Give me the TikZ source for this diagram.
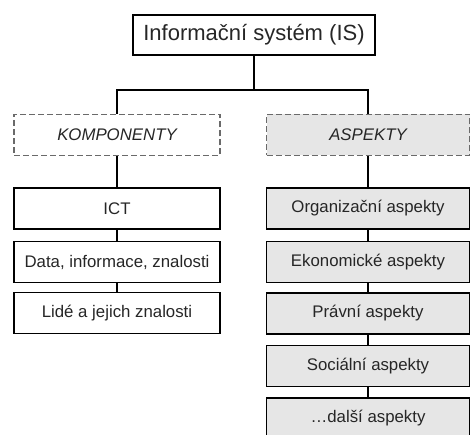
\documentclass[tikz,border=0pt]{standalone}
\usepackage{fontspec}
\setmainfont{Liberation Sans}
\usetikzlibrary{positioning}
\definecolor{aspgray}{HTML}{E6E6E6}
\definecolor{dashgray}{HTML}{6A6A6A}
\definecolor{textgray}{HTML}{262626}
\tikzset{
  box/.style={draw, line width=1.4pt, minimum width=206pt, minimum height=41pt, inner sep=0pt, text=textgray, font=\fontsize{16.8}{19}\selectfont},
  aspbox/.style={box, fill=aspgray},
  groupbox/.style={box, draw=dashgray, dash pattern=on 6pt off 3pt, font=\fontsize{16.8}{19}\selectfont\itshape},
  link/.style={draw, line width=1.4pt}
}

\begin{document}
\begin{tikzpicture}[x=1pt, y=-1pt]
	\useasboundingbox (0,0) rectangle (470,435);
	\clip (0,0) rectangle (470,435);
	\node[box, minimum width=242pt, minimum height=40pt, font=\fontsize{22}{25}\selectfont] (is) at (254,35) {Informační systém (IS)};
	\coordinate (split) at (254,90);
	% group boxes
	\node[groupbox] (komp) at (117,135) {KOMPONENTY};
	\node[groupbox, fill=aspgray, minimum width=203pt] (asp) at (368,135) {ASPEKTY};
	% left column
	\node[box] (ict) at (117,208.5) {ICT};
	\node[box] (data) at (117,262) {Data, informace, znalosti};
	\node[box] (lide) at (117,313) {Lidé a jejich znalosti};
	% right column
	\node[aspbox, minimum width=203pt] (org) at (368,208.5) {Organizační aspekty};
	\node[aspbox, minimum width=203pt] (eko) at (368,262) {Ekonomické aspekty};
	\node[aspbox, minimum width=203pt] (prav) at (368,313.5) {Právní aspekty};
	\node[aspbox, minimum width=203pt] (soc) at (368,366) {Sociální aspekty};
	\node[aspbox, minimum width=203pt] (dalsi) at (368,418.5) {\dots další aspekty};
	\draw[link] (is) -- (split);
	\draw[link] (komp.north) |- (split) -| (asp.north);
	\draw[link] (komp) -- (ict);
	\draw[link] (ict) -- (data);
	\draw[link] (data) -- (lide);
	\draw[link] (asp) -- (org);
	\draw[link] (org) -- (eko);
	\draw[link] (eko) -- (prav);
	\draw[link] (prav) -- (soc);
	\draw[link] (soc) -- (dalsi);
\end{tikzpicture}
\end{document}
